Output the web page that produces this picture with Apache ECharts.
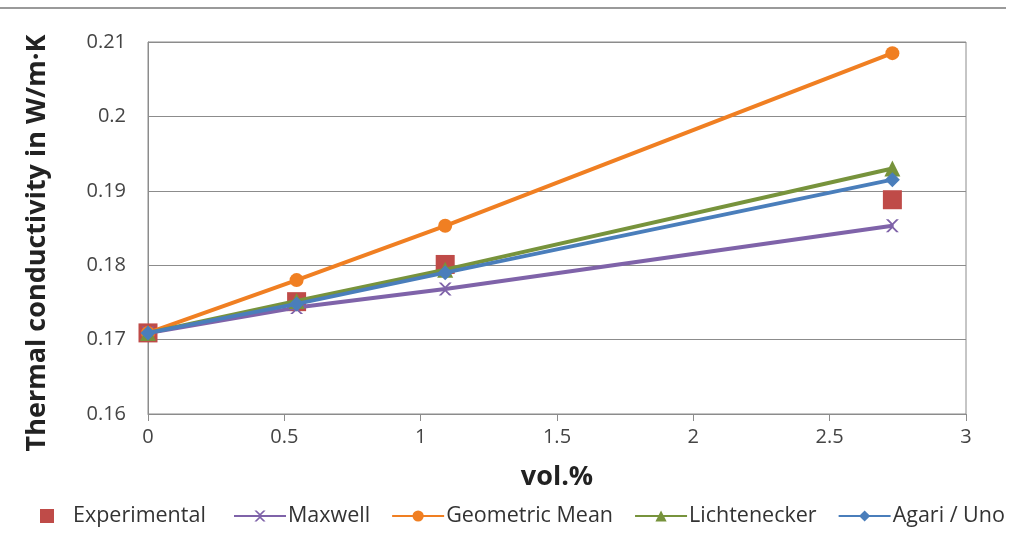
<!DOCTYPE html>
<html>
<head>
<meta charset="utf-8">
<script src="https://cdn.jsdelivr.net/npm/echarts@6/dist/echarts.min.js"></script>
<style>
html,body{margin:0;padding:0;background:#fff;}
#chart{width:1020px;height:544px;}
</style>
</head>
<body>
<div id="chart"></div>
<script>
// Filler content, vol.%
const volFraction = [0, 0.545, 1.09, 2.73];
// Thermal conductivity, W/m·K
const experimental = [0.1709, 0.1751, 0.1801, 0.1888];
const maxwell      = [0.1709, 0.1743, 0.1768, 0.1853];
const geometric    = [0.1709, 0.1780, 0.1853, 0.2085];
const lichtenecker = [0.1709, 0.1752, 0.1794, 0.1930];
const agariUno     = [0.1709, 0.1748, 0.1790, 0.1915];

const seriesNames = ['Experimental', 'Maxwell', 'Geometric Mean', 'Lichtenecker', 'Agari / Uno'];
const colors = ['#BF4B48', '#7F63A9', '#F07F22', '#77933C', '#4A7EBB'];

const crossPath = 'path://M0,0 L2,0 L5,3 L8,0 L10,0 L6,4 L6,6 L10,10 L8,10 L5,7 L2,10 L0,10 L4,6 L4,4 Z';
const font = 'Open Sans';

const pairs = v => volFraction.map((x, i) => [x, v[i]]);

const chart = echarts.init(document.getElementById('chart'));
chart.setOption({
  backgroundColor: '#fff',
  animation: false,
  graphic: [{
    type: 'line',
    shape: { x1: 0, y1: 8, x2: 1006, y2: 8 },
    style: { stroke: '#9a9a9a', lineWidth: 2 }
  }],
  grid: { left: 148, right: 54, top: 42, bottom: 130, show: true, borderColor: '#8c8c8c', borderWidth: 1 },
  legend: [{
    left: 35, top: 500,
    itemWidth: 14, itemHeight: 14,
    icon: 'rect',
    textStyle: { fontFamily: font, fontSize: 21.5, color: '#333', padding: [0, 0, 0, 14] },
    data: ['Experimental']
  }, {
    left: 228, top: 500,
    itemWidth: 52, itemHeight: 14, itemGap: 21,
    textStyle: { fontFamily: font, fontSize: 21.5, color: '#333', padding: [0, 0, 0, -3] },
    data: ['Maxwell', 'Geometric Mean', 'Lichtenecker', 'Agari / Uno']
  }],
  xAxis: {
    type: 'value', min: 0, max: 3, interval: 0.5,
    name: 'vol.%', nameLocation: 'middle', nameGap: 50,
    nameTextStyle: { fontFamily: font, fontSize: 27, fontWeight: 'bold', color: '#222' },
    axisLine: { lineStyle: { color: '#8c8c8c' } },
    axisTick: { show: true, length: 7, lineStyle: { color: '#8c8c8c' } },
    splitLine: { show: false },
    axisLabel: { fontFamily: font, fontSize: 20, color: '#444', margin: 13 }
  },
  yAxis: {
    type: 'value', min: 0.16, max: 0.21, interval: 0.01,
    name: 'Thermal conductivity in W/m·K', nameLocation: 'middle', nameGap: 97,
    nameTextStyle: { fontFamily: font, fontSize: 27, fontWeight: 'bold', color: '#222', padding: [0, 30, 0, 0] },
    axisLine: { show: true, lineStyle: { color: '#8c8c8c' } },
    axisTick: { show: false },
    splitLine: { lineStyle: { color: '#8c8c8c' } },
    axisLabel: {
      fontFamily: font, fontSize: 20, color: '#444', margin: 22,
      formatter: v => String(Math.round(v * 100) / 100)
    }
  },
  series: [
    { name: seriesNames[0], type: 'scatter', data: pairs(experimental), color: colors[0],
      symbol: 'rect', symbolSize: 19, itemStyle: { opacity: 1 }, z: 1 },
    { name: seriesNames[1], type: 'line', data: pairs(maxwell), color: colors[1],
      symbol: crossPath, symbolSize: 13, lineStyle: { width: 4 }, z: 2 },
    { name: seriesNames[2], type: 'line', data: pairs(geometric), color: colors[2],
      symbol: 'circle', symbolSize: 14, lineStyle: { width: 4 }, z: 3 },
    { name: seriesNames[3], type: 'line', data: pairs(lichtenecker), color: colors[3],
      symbol: 'triangle', symbolSize: 16, lineStyle: { width: 4 }, z: 4 },
    { name: seriesNames[4], type: 'line', data: pairs(agariUno), color: colors[4],
      symbol: 'diamond', symbolSize: 15, lineStyle: { width: 4 }, z: 5 }
  ]
});
</script>
</body>
</html>
